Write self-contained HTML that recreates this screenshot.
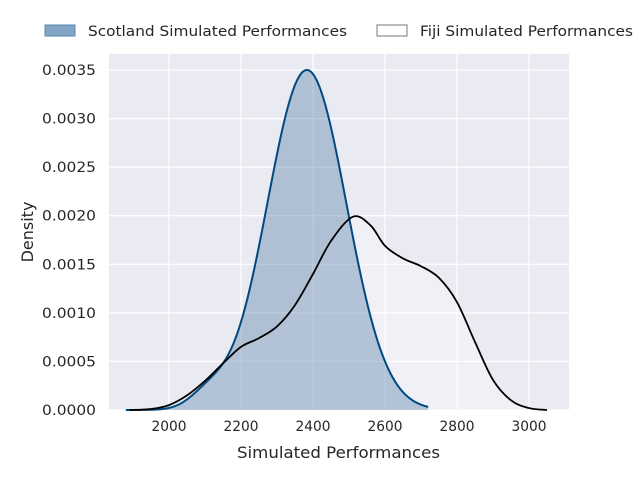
<!DOCTYPE html>
<html><head><meta charset="utf-8"><style>
body{margin:0;background:#fff;}
svg{display:block;font-family:"DejaVu Sans","Liberation Sans",sans-serif;}
</style></head><body>
<svg id="s" width="640" height="480" xmlns="http://www.w3.org/2000/svg">
<rect x="109" y="54" width="460" height="356" fill="#EAEAF2"/>
<g stroke="#fff" stroke-width="1.2">
<line x1="169" y1="54" x2="169" y2="410"/><line x1="241" y1="54" x2="241" y2="410"/>
<line x1="313" y1="54" x2="313" y2="410"/><line x1="385" y1="54" x2="385" y2="410"/>
<line x1="457" y1="54" x2="457" y2="410"/><line x1="529" y1="54" x2="529" y2="410"/>
<line x1="109" y1="70" x2="569" y2="70"/><line x1="109" y1="118.6" x2="569" y2="118.6"/>
<line x1="109" y1="167.1" x2="569" y2="167.1"/><line x1="109" y1="215.7" x2="569" y2="215.7"/>
<line x1="109" y1="264.3" x2="569" y2="264.3"/><line x1="109" y1="312.9" x2="569" y2="312.9"/>
<line x1="109" y1="361.4" x2="569" y2="361.4"/><line x1="109" y1="410" x2="569" y2="410"/>
</g>
<path id="ff" fill="#fff" fill-opacity="0.3" stroke="none"/>
<path id="sf" fill="#5D86AE" fill-opacity="0.42" stroke="none"/>
<path id="sl" fill="none" stroke="#004a80" stroke-width="2"/>
<path id="fl" fill="none" stroke="#000" stroke-width="1.8"/>
<g font-size="14" fill="#262626" text-anchor="middle">
<text x="169" y="431" textLength="35" lengthAdjust="spacingAndGlyphs">2000</text><text x="241" y="431" textLength="35" lengthAdjust="spacingAndGlyphs">2200</text><text x="313" y="431" textLength="35" lengthAdjust="spacingAndGlyphs">2400</text>
<text x="385" y="431" textLength="35" lengthAdjust="spacingAndGlyphs">2600</text><text x="457" y="431" textLength="35" lengthAdjust="spacingAndGlyphs">2800</text><text x="529" y="431" textLength="35" lengthAdjust="spacingAndGlyphs">3000</text>
</g>
<g font-size="14" fill="#262626">
<text x="42" y="75" textLength="54" lengthAdjust="spacingAndGlyphs">0.0035</text><text x="42" y="123.6" textLength="54" lengthAdjust="spacingAndGlyphs">0.0030</text><text x="42" y="172.1" textLength="54" lengthAdjust="spacingAndGlyphs">0.0025</text>
<text x="42" y="220.7" textLength="54" lengthAdjust="spacingAndGlyphs">0.0020</text><text x="42" y="269.3" textLength="54" lengthAdjust="spacingAndGlyphs">0.0015</text><text x="42" y="317.9" textLength="54" lengthAdjust="spacingAndGlyphs">0.0010</text>
<text x="42" y="366.4" textLength="54" lengthAdjust="spacingAndGlyphs">0.0005</text><text x="42" y="415" textLength="54" lengthAdjust="spacingAndGlyphs">0.0000</text>
</g>
<text x="237" y="458" font-size="16" fill="#262626" textLength="203" lengthAdjust="spacingAndGlyphs">Simulated Performances</text>
<text transform="translate(33,232) rotate(-90)" font-size="16" fill="#262626" text-anchor="middle">Density</text>
<rect x="45" y="25" width="30" height="11" fill="#84A6C6" stroke="#5D86AE"/>
<text x="88" y="36" font-size="14.5" fill="#262626" textLength="259" lengthAdjust="spacingAndGlyphs">Scotland Simulated Performances</text>
<rect x="377" y="25" width="30" height="11" fill="#fff" stroke="#777"/>
<text x="420" y="36" font-size="14.5" fill="#262626" textLength="213" lengthAdjust="spacingAndGlyphs">Fiji Simulated Performances</text>
</svg>
<script>
function g(x,a,m,s){return a*Math.exp(-(x-m)*(x-m)/(2*s*s));}
function sc(x){return g(x,0.0035,2383,110)+g(x,0.00015,2110,50);}
var P=[[1890,0],[1950,0.00001],[2000,0.00005],[2050,0.00015],[2100,0.0003],[2150,0.00048],[2200,0.00065],[2250,0.00074],[2300,0.00086],[2350,0.00108],[2400,0.0014],[2450,0.00174],[2511,0.00199],[2560,0.0019],[2600,0.00169],[2650,0.00156],[2700,0.00148],[2750,0.00136],[2800,0.00111],[2850,0.0007],[2900,0.00031],[2950,0.0001],[3000,0.00002],[3050,0]];
function X(v){return 169+(v-2000)*0.36;}
function Y(d){return 410-d*340/0.0035;}
function mk(f,a,b){var l="",i;for(i=a;i<=b;i+=3){l+=(i==a?"M":"L")+X(i).toFixed(2)+","+Y(f(i)).toFixed(2);}return l;}
var s=mk(sc,1880,2720);
var pts=P.map(function(p){return [X(p[0]),Y(p[1])];});
var f="M"+pts[0][0]+","+pts[0][1];
for(var i=0;i<pts.length-1;i++){
 var p0=pts[Math.max(0,i-1)],p1=pts[i],p2=pts[i+1],p3=pts[Math.min(pts.length-1,i+2)];
 var c1x=p1[0]+(p2[0]-p0[0])/6,c1y=p1[1]+(p2[1]-p0[1])/6,c2x=p2[0]-(p3[0]-p1[0])/6,c2y=p2[1]-(p3[1]-p1[1])/6;
 f+="C"+c1x.toFixed(2)+","+c1y.toFixed(2)+" "+c2x.toFixed(2)+","+c2y.toFixed(2)+" "+p2[0].toFixed(2)+","+p2[1].toFixed(2);
}
document.getElementById("sl").setAttribute("d",s);
document.getElementById("fl").setAttribute("d",f);
document.getElementById("sf").setAttribute("d",s+"L"+X(2720)+",410L"+X(1880)+",410Z");
document.getElementById("ff").setAttribute("d",f+"L"+X(3050)+",410L"+X(1890)+",410Z");
</script>
</body></html>
